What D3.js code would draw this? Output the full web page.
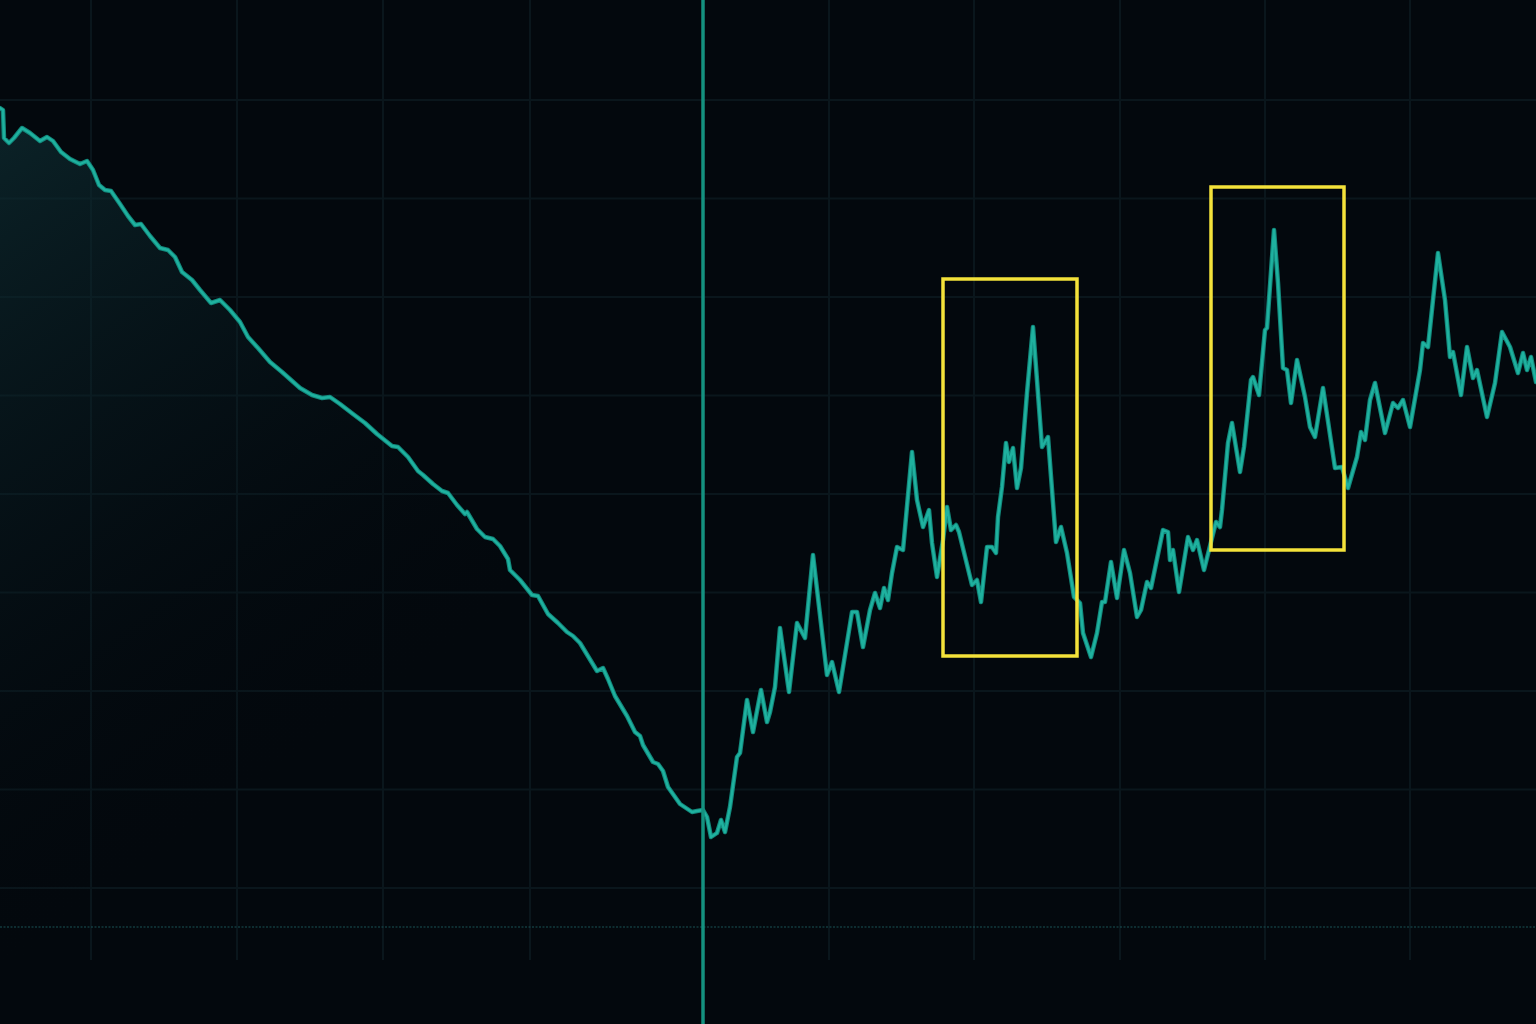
<!DOCTYPE html>
<html>
<head>
<meta charset="utf-8">
<script src="https://cdn.jsdelivr.net/npm/d3@7"></script>
<style>
  html, body { margin: 0; padding: 0; background: #03080d; overflow: hidden; }
  svg { display: block; }
</style>
</head>
<body>
<svg id="chart" width="1536" height="1024"></svg>
<script>
// ---- DATA (time units, value units) ----
const priceSeries = [
  [0,89.2],[0.3,89],[0.4,86.2],[0.9,85.7],[1.4,86.2],[2.2,87.2],[3,86.7],[4,85.9],[4.7,86.3],[5.3,85.9],
  [6.1,84.8],[7,84.1],[8,83.6],[8.7,83.9],[9.3,83],[9.9,81.5],[10.5,81],[11.1,80.9],[12,79.6],[12.8,78.4],
  [13.5,77.5],[14.1,77.6],[15,76.4],[16,75.2],[16.8,75],[17.5,74.3],[18.2,72.8],[19.2,72],[20,71],[21.1,69.7],
  [22,70],[23,69],[24,67.8],[24.8,66.3],[25.8,65.2],[27,63.8],[28.2,62.8],[30,61.2],[31.2,60.5],[32.2,60.2],
  [33,60.3],[34,59.6],[35.3,58.6],[36.5,57.7],[37.7,56.6],[39.2,55.4],[39.8,55.3],[40.8,54.3],[41.8,52.9],[42.3,52.5],
  [43.3,51.6],[44.2,50.9],[44.8,50.7],[45.7,49.5],[46.5,48.6],[46.7,48.8],[47.7,47.1],[48.5,46.3],[49.3,46.1],[50,45.4],
  [50.8,44.1],[51,43],[52,42],[53.2,40.5],[53.8,40.4],[54.8,38.6],[55.8,37.7],[56.7,36.8],[57.3,36.4],[58,35.7],
  [59.7,32.9],[60.3,33.2],[60.8,32.1],[61.5,30.4],[62.7,28.4],[63.5,26.8],[64,26.4],[64.3,25.5],[65.3,23.8],[65.8,23.6],
  [66.3,22.9],[66.8,21.3],[68,19.6],[69.2,18.8],[69.7,18.9],[70.3,19],
  [70.7,18.3],[71.1,16.3],[71.7,16.7],[72.1,18],[72.5,16.8],[73,19.3],[73.7,24.3],[74,24.7],[74.7,30],[75.3,26.8],
  [76.1,31],[76.7,27.8],[77,28.8],[77.5,31.3],[78,37.2],[78.9,30.8],[79.7,37.7],[80.5,36.2],[81.3,44.5],[82.7,32.5],
  [83.2,33.8],[83.9,30.8],[85.2,38.8],[85.7,38.8],[86.3,35.3],[87,39],[87.5,40.7],[88,39.2],[88.4,41.2],[88.8,40],
  [89.2,42.7],[89.7,45.3],[90.3,45],[91.2,54.8],[91.7,50],[92.3,47.3],[92.9,49],[93.2,45.7],[93.7,42.3],[94.3,46],
  [94.7,49.3],[95.1,47],[95.6,47.5],[95.9,46.8],[97.2,41.5],[97.7,42],[98.1,39.8],[98.7,45.3],[99.2,45.3],[99.6,44.7],
  [99.8,48.3],[100.2,51.3],[100.6,55.7],[100.9,53.8],[101.3,55.2],[101.7,51.2],[102.1,53.2],[102.7,60.7],[103.3,67.3],[104.2,55.3],
  [104.8,56.3],[105.6,45.8],[106.1,47.3],[106.7,44.7],[107.4,40.3],[108,39.7],[108.3,36.7],[109.1,34.3],[109.7,36.7],[110.2,39.8],
  [110.5,39.8],[111.1,43.8],[111.7,40.2],[112.4,45],[113,42.7],[113.7,38.3],[114.1,39],[114.7,41.8],[115.1,41.2],[116.3,47],
  [116.8,46.8],[117,44],[117.3,45],[117.9,40.8],[118.8,46.3],[119.3,45],[119.7,46],[120.4,43],[121.2,46.2],[121.6,47.8],
  [122,47.3],[122.2,49],[122.8,55.7],[123.2,57.7],[124,52.8],[124.4,55.3],[125.1,62],[125.3,62.3],[125.9,60.5],[126.5,67],
  [126.7,67.2],[127.4,77],[127.8,71.7],[128.3,63.2],[128.7,63],[129.1,59.7],[129.7,64],[130.5,60.3],[131,57.3],[131.5,56.3],
  [132.3,61.2],[133.5,53.2],[134.2,53.3],[134.8,51.2],[135.7,54.3],[136.1,56.8],[136.5,56],[137,60],[137.5,61.7],[138.5,56.7],
  [139.3,59.7],[139.8,59.2],[140.3,60],[141,57.3],[142,63],[142.3,65.7],[142.8,65.3],[143.8,74.7],[144.5,70],[145,64.3],
  [145.3,64.8],[146.1,60.5],[146.7,65.3],[147.3,62.2],[147.7,63],[148.7,58.3],[149.5,61.7],[150.2,66.8],[151,65.3],[151.8,62.7],
  [152.3,64.7],[152.7,63],[153.1,64.3],[153.6,61.8]
];
const eventTime = 70.3;                 // vertical marker
const baselineValue = 7.3;              // dotted reference line
const gridTimes = [9.1, 23.7, 38.3, 53, 82.9, 97.4, 112, 126.5, 141];
const gridValues = [90, 80.15, 70.3, 60.45, 50.6, 40.75, 30.9, 21.05, 11.2];
const gridBottomValue = 4;
const highlightBoxes = [
  { t0: 94.3, t1: 107.7, v0: 34.4, v1: 72.1 },
  { t0: 121.1, t1: 134.4, v0: 45.0, v1: 81.3 }
];

// ---- SCALES ----
const W = 1536, H = 1024;
const x = d3.scaleLinear().domain([0, 153.6]).range([0, W]);
const y = d3.scaleLinear().domain([0, 100]).range([1000, 0]);

const svg = d3.select("#chart");
svg.append("rect").attr("width", W).attr("height", H).attr("fill", "#03080d");

const defs = svg.append("defs");
const grad = defs.append("linearGradient").attr("id", "areaGrad")
  .attr("gradientUnits", "userSpaceOnUse")
  .attr("x1", x(0)).attr("y1", y(86)).attr("x2", x(40)).attr("y2", y(30));
grad.append("stop").attr("offset", 0).attr("stop-color", "#0e2c31").attr("stop-opacity", 0.7);
grad.append("stop").attr("offset", 0.5).attr("stop-color", "#0a2026").attr("stop-opacity", 0.3);
grad.append("stop").attr("offset", 1).attr("stop-color", "#03080d").attr("stop-opacity", 0);

// ---- GRID ----
const grid = svg.append("g");
grid.selectAll("line.h").data(gridValues).join("line")
  .attr("x1", 0).attr("x2", W)
  .attr("y1", d => y(d)).attr("y2", d => y(d))
  .attr("stroke", "#0a161c").attr("stroke-width", 2);
grid.selectAll("line.v").data(gridTimes).join("line")
  .attr("x1", d => x(d)).attr("x2", d => x(d))
  .attr("y1", 0).attr("y2", y(gridBottomValue))
  .attr("stroke", "#0a161c").attr("stroke-width", 2);

// ---- AREA (before event) ----
const before = priceSeries.filter(d => d[0] <= eventTime);
const area = d3.area().x(d => x(d[0])).y0(y(gridBottomValue)).y1(d => y(d[1]));
svg.append("path").datum(before).attr("d", area).attr("fill", "url(#areaGrad)");

// ---- DOTTED BASELINE ----
svg.append("line")
  .attr("x1", 0).attr("x2", W)
  .attr("y1", y(baselineValue)).attr("y2", y(baselineValue))
  .attr("stroke", "#1b5256").attr("stroke-width", 1.2)
  .attr("stroke-dasharray", "2,1.5");

// ---- LINE ----
const line = d3.line().x(d => x(d[0])).y(d => y(d[1]));
svg.append("path").datum(priceSeries).attr("d", line)
  .attr("fill", "none").attr("stroke", "#12897c").attr("stroke-width", 4.5)
  .attr("stroke-linejoin", "round").attr("stroke-linecap", "round");
svg.append("path").datum(priceSeries).attr("d", line)
  .attr("fill", "none").attr("stroke", "#1fb19f").attr("stroke-width", 2.4)
  .attr("stroke-linejoin", "round").attr("stroke-linecap", "round");

// ---- EVENT MARKER ----
svg.append("line")
  .attr("x1", x(eventTime)).attr("x2", x(eventTime))
  .attr("y1", 0).attr("y2", H)
  .attr("stroke", "#14917f").attr("stroke-width", 3.5);

// ---- HIGHLIGHT BOXES ----
svg.selectAll("rect.box").data(highlightBoxes).join("rect")
  .attr("class", "box")
  .attr("x", d => x(d.t0)).attr("y", d => y(d.v1))
  .attr("width", d => x(d.t1) - x(d.t0))
  .attr("height", d => y(d.v0) - y(d.v1))
  .attr("fill", "none").attr("stroke", "#f4e23a").attr("stroke-width", 3.5);
</script>
</body>
</html>
